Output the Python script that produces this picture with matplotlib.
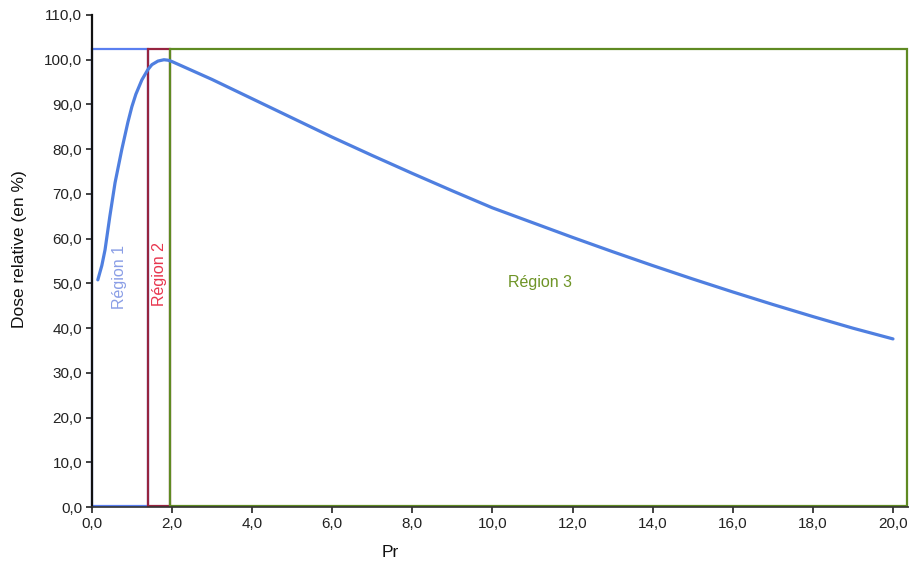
import matplotlib

matplotlib.use("Agg")
import matplotlib.pyplot as plt
from matplotlib.patches import Rectangle
from matplotlib.ticker import FuncFormatter, MultipleLocator

# Depth-dose curve
depth = [0.15, 0.25, 0.33, 0.45, 0.58, 0.75, 0.9, 1.0, 1.1, 1.25, 1.4, 1.5, 1.65, 1.8,
         1.9, 2.0, 2.5, 3.0, 4.0, 5.0, 6.0, 7.0, 8.0, 9.0, 10.0, 11.0, 12.0, 13.0,
         14.0, 15.0, 16.0, 17.0, 18.0, 19.0, 20.0]
dose = [50.8, 54.0, 57.5, 65.0, 72.5, 80.0, 86.0, 89.5, 92.3, 95.5, 97.8, 98.9, 99.7,
        100.0, 99.9, 99.6, 97.6, 95.6, 91.3, 87.0, 82.7, 78.6, 74.6, 70.7, 66.9, 63.6,
        60.3, 57.1, 54.0, 51.0, 48.1, 45.3, 42.6, 40.0, 37.6]

# Region boxes: x edges and common top
region_edges = [0.0, 1.4, 1.95, 20.35]
region_top = 102.5
region_names = ["Région 1", "Région 2", "Région 3"]

plt.rcParams["font.family"] = ["Liberation Sans", "DejaVu Sans"]

fig = plt.figure(figsize=(9.09, 5.66), dpi=100)
ax = fig.add_axes([0.101, 0.104, 0.899, 0.8695])

ax.plot(depth, dose, color="#4f7fe0", lw=2.3, solid_capstyle="round",
        solid_joinstyle="round", zorder=3)

box_colors = ["#5a7ff0", "#962440", "#5f8a22"]
for i, color in enumerate(box_colors):
    x0, x1 = region_edges[i], region_edges[i + 1]
    ax.add_patch(Rectangle((x0, 0.3), x1 - x0, region_top - 0.3, fill=False,
                           edgecolor=color, lw=1.6, clip_on=False, zorder=2))

ax.text(0.7, 51.5, region_names[0], rotation=90, color="#8a9ee6", fontsize=11.5,
        ha="center", va="center")
ax.text(1.68, 52, region_names[1], rotation=90, color="#e8364e", fontsize=11.5,
        ha="center", va="center")
ax.text(11.2, 50.1, region_names[2], color="#6e9426", fontsize=11.5,
        ha="center", va="center")

ax.set_xlim(0, 20.4)
ax.set_ylim(0, 110)
ax.xaxis.set_major_locator(MultipleLocator(2))
ax.yaxis.set_major_locator(MultipleLocator(10))
comma = FuncFormatter(lambda v, _: f"{v:.1f}".replace(".", ","))
ax.xaxis.set_major_formatter(comma)
ax.yaxis.set_major_formatter(comma)
ax.tick_params(direction="out", length=4, width=1.2, labelsize=11, colors="#222222",
               pad=3)

for side in ("top", "right"):
    ax.spines[side].set_visible(False)
ax.spines["left"].set_linewidth(1.6)
ax.spines["left"].set_color("#111111")
ax.spines["bottom"].set_linewidth(1.2)
ax.spines["bottom"].set_color("#333333")

fig.text(0.022, 0.56, "Dose relative (en %)", rotation=90, ha="center", va="center",
         fontsize=12.5, color="#111111")
fig.text(0.429, 0.023, "Pr", ha="center", va="center", fontsize=12.5, color="#111111")

fig.savefig("out.png", dpi=100)
